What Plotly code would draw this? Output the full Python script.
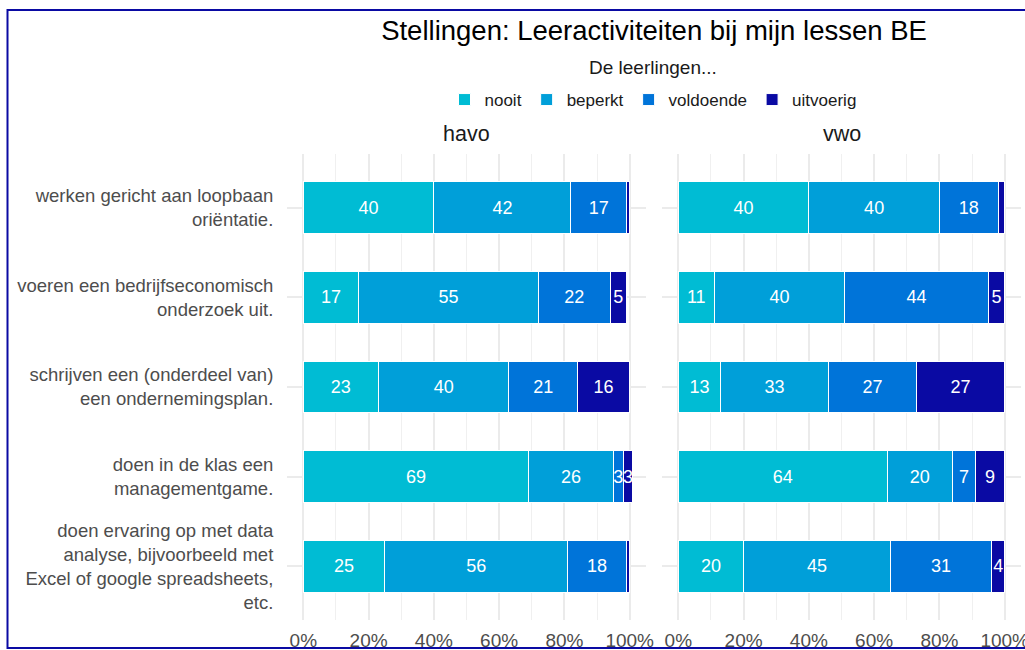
import plotly.graph_objects as go

W, H = 1025, 650

statements = [
    "werken gericht aan loopbaan<br>oriëntatie.",
    "voeren een bedrijfseconomisch<br>onderzoek uit.",
    "schrijven een (onderdeel van)<br>een ondernemingsplan.",
    "doen in de klas een<br>managementgame.",
    "doen ervaring op met data<br>analyse, bijvoorbeeld met<br>Excel of google spreadsheets,<br>etc.",
]
levels = ["nooit", "beperkt", "voldoende", "uitvoerig"]
colors = ["#00BCD4", "#009FD9", "#0074D9", "#0A0AA3"]

havo_nooit = [40, 17, 23, 69, 25]
havo_beperkt = [42, 55, 40, 26, 56]
havo_voldoende = [17, 22, 21, 3, 18]
havo_uitvoerig = [1, 5, 16, 3, 1]

vwo_nooit = [40, 11, 13, 64, 20]
vwo_beperkt = [40, 40, 33, 20, 45]
vwo_voldoende = [18, 44, 27, 7, 31]
vwo_uitvoerig = [2, 5, 27, 9, 4]

x_ticks = [0, 0.2, 0.4, 0.6, 0.8, 1.0]
x_ticktext = ["0%", "20%", "40%", "60%", "80%", "100%"]

havo = [havo_nooit, havo_beperkt, havo_voldoende, havo_uitvoerig]
vwo = [vwo_nooit, vwo_beperkt, vwo_voldoende, vwo_uitvoerig]

FONT = "Liberation Sans, Arial, sans-serif"

fig = go.Figure()
for i, lvl in enumerate(levels):
    for panel, data, xa, ya in [("havo", havo, "x", "y"), ("vwo", vwo, "x2", "y2")]:
        vals = data[i]
        fig.add_trace(go.Bar(
            orientation="h",
            x=[v / 100 for v in vals],
            y=statements,
            xaxis=xa, yaxis=ya,
            name=lvl,
            legendgroup=lvl,
            showlegend=(panel == "havo"),
            marker=dict(color=colors[i], line=dict(color="white", width=1)),
            width=0.58,
            text=[str(v) if v >= 3 else "" for v in vals],
            textposition="inside",
            insidetextanchor="middle",
            textangle=0,
            textfont=dict(color="white", size=18, family=FONT),
            hoverinfo="skip",
        ))

xdom1 = [287 / W, 646 / W]
xdom2 = [662 / W, 1021 / W]
ydom = [1 - 620 / H, 1 - 154 / H]

axis_x = dict(
    range=[-0.05, 1.05],
    tickvals=x_ticks, ticktext=x_ticktext,
    showgrid=True, gridcolor="#EBEBEB", gridwidth=1.5,
    minor=dict(dtick=0.1, tick0=0, showgrid=True, gridcolor="#F0F0F0", gridwidth=1),
    zeroline=False, showline=False,
    ticks="outside", ticklen=3, tickcolor="rgba(0,0,0,0)",
    tickfont=dict(size=19, color="#4D4D4D", family=FONT),
    ticklabeloverflow="allow",
    automargin=False, fixedrange=True,
)

fig.update_layout(
    width=W, height=H,
    margin=dict(l=0, r=0, t=0, b=0),
    template="none",
    paper_bgcolor="white", plot_bgcolor="white",
    font=dict(family=FONT, color="#1A1A1A"),
    barmode="stack",
    uniformtext=dict(minsize=18, mode="show"),
    xaxis=dict(domain=xdom1, anchor="y", **axis_x),
    xaxis2=dict(domain=xdom2, anchor="y2", **axis_x),
    yaxis=dict(
        domain=ydom, anchor="x",
        categoryorder="array", categoryarray=statements,
        range=[4.6, -0.6],
        showgrid=True, gridcolor="#EBEBEB", gridwidth=1.5,
        zeroline=False, showline=False,
        ticks="outside", ticklen=9, tickcolor="rgba(0,0,0,0)",
        tickfont=dict(size=18.5, color="#4D4D4D", family=FONT),
        ticklabeloverflow="allow",
        automargin=False, fixedrange=True,
    ),
    yaxis2=dict(
        domain=ydom, anchor="x2", matches="y",
        categoryorder="array", categoryarray=statements,
        range=[4.6, -0.6],
        showgrid=True, gridcolor="#EBEBEB", gridwidth=1.5,
        zeroline=False, showline=False, showticklabels=False,
        automargin=False, fixedrange=True,
    ),
    title=dict(
        text="Stellingen: Leeractiviteiten bij mijn lessen BE",
        x=654 / W, xanchor="center", xref="paper",
        y=1 - 30 / H, yanchor="middle", yref="paper",
        font=dict(size=27.5, color="black", family=FONT),
    ),
    legend=dict(
        orientation="h",
        x=653 / W, xanchor="center",
        y=1 - 82 / H, yanchor="top",
        font=dict(size=17, color="#1A1A1A", family=FONT),
        itemclick=False, itemdoubleclick=False,
        bgcolor="rgba(0,0,0,0)",
    ),
    annotations=[
        dict(text="De leerlingen...", x=653 / W, y=1 - 67 / H, xref="paper", yref="paper",
             xanchor="center", yanchor="middle", showarrow=False,
             font=dict(size=19, color="#1A1A1A", family=FONT)),
        dict(text="havo", x=(xdom1[0] + xdom1[1]) / 2, y=1 - 134 / H, xref="paper", yref="paper",
             xanchor="center", yanchor="middle", showarrow=False,
             font=dict(size=21.5, color="#1A1A1A", family=FONT)),
        dict(text="vwo", x=(xdom2[0] + xdom2[1]) / 2, y=1 - 134 / H, xref="paper", yref="paper",
             xanchor="center", yanchor="middle", showarrow=False,
             font=dict(size=21.5, color="#1A1A1A", family=FONT)),
    ],
    shapes=[
        dict(type="rect", xref="paper", yref="paper",
             x0=7.5 / W, x1=1030 / W, y0=1 - 648 / H, y1=1 - 10 / H,
             line=dict(color="#0A0AA3", width=2), fillcolor="rgba(0,0,0,0)", layer="above"),
    ],
)

fig.write_html(
    "out.html",
    config={"displayModeBar": False},
    post_script="document.body.style.margin='0';document.body.style.padding='0';document.body.style.overflow='hidden';",
)
